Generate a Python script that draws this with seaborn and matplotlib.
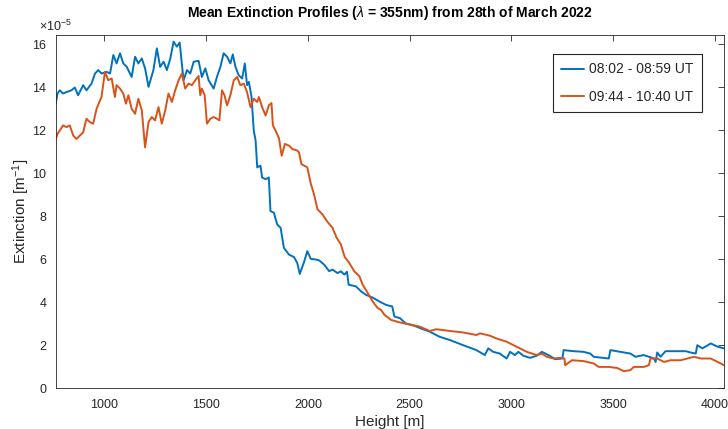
import numpy as np
import pandas as pd
import matplotlib
matplotlib.use("Agg")
import matplotlib.pyplot as plt
from matplotlib.ticker import ScalarFormatter
import seaborn as sns

# ---------------- data (extinction in units of 1e-5 m^-1) ----------------
label_early = "08:02 - 08:59 UT"
label_late = "09:44 - 10:40 UT"

height_early = [761, 770, 781, 797, 814, 838, 855, 871, 896, 912, 937, 954, 970, 986, 1011, 1028,
                1044, 1060, 1077, 1093, 1110, 1134, 1151, 1167, 1184, 1200, 1217, 1241, 1258, 1274,
                1291, 1307, 1324, 1340, 1356, 1370, 1389, 1406, 1422, 1439, 1463, 1479, 1496, 1512,
                1537, 1553, 1570, 1586, 1603, 1619, 1631, 1644, 1660, 1677, 1690, 1701, 1710, 1723,
                1734, 1743, 1751, 1767, 1775, 1792, 1808, 1816, 1833, 1849, 1866, 1882, 1907, 1932,
                1948, 1960, 1981, 1997, 2014, 2038, 2055, 2080, 2104, 2121, 2145, 2162, 2179, 2192,
                2200, 2236, 2261, 2285, 2318, 2351, 2384, 2414, 2425, 2453, 2480, 2520, 2560, 2598,
                2647, 2697, 2762, 2828, 2869, 2886, 2910, 2943, 2976, 2993, 3017, 3034, 3058, 3091,
                3124, 3149, 3182, 3215, 3250, 3256, 3305, 3354, 3387, 3404, 3453, 3478, 3486, 3535,
                3584, 3609, 3650, 3675, 3700, 3708, 3716, 3732, 3757, 3815, 3856, 3880, 3905, 3913,
                3938, 3979, 4012, 4044]
ext_early = [13.21, 13.68, 13.83, 13.68, 13.75, 13.83, 13.96, 13.60, 14.07, 13.83, 14.14, 14.61, 14.77,
             14.61, 14.69, 14.61, 15.47, 15.08, 15.55, 15.08, 14.92, 14.45, 15.39, 15.08, 15.31, 14.85,
             13.99, 14.77, 15.78, 14.92, 15.16, 14.77, 15.31, 16.09, 15.86, 16.05, 14.30, 14.77, 14.61,
             15.16, 15.20, 14.45, 14.85, 14.30, 13.91, 14.45, 14.92, 15.55, 15.39, 15.08, 15.50, 14.92,
             14.53, 14.38, 15.08, 14.07, 14.22, 13.52, 11.96, 11.50, 10.25, 10.33, 9.78, 9.70, 9.78,
             8.22, 8.14, 7.60, 7.44, 6.51, 6.20, 6.08, 5.80, 5.30, 5.85, 6.36, 6.00, 5.97, 5.93, 5.73,
             5.43, 5.50, 5.34, 5.42, 5.27, 5.40, 4.80, 4.72, 4.49, 4.33, 4.20, 4.02, 3.86, 3.79, 3.32,
             3.24, 3.00, 2.90, 2.75, 2.62, 2.38, 2.23, 1.99, 1.76, 1.53, 1.84, 1.68, 1.60, 1.37, 1.68,
             1.53, 1.68, 1.50, 1.40, 1.50, 1.68, 1.53, 1.34, 1.37, 1.76, 1.71, 1.68, 1.60, 1.45, 1.40,
             1.37, 1.76, 1.68, 1.60, 1.45, 1.53, 1.45, 1.37, 1.21, 1.65, 1.45, 1.71, 1.71, 1.71, 1.65,
             1.60, 1.99, 1.84, 2.07, 1.92, 1.84]

height_late = [761, 770, 781, 797, 814, 830, 847, 863, 880, 896, 912, 929, 945, 962, 986, 1003, 1019,
               1036, 1052, 1060, 1077, 1093, 1106, 1118, 1134, 1151, 1167, 1184, 1200, 1217, 1233,
               1249, 1266, 1282, 1299, 1315, 1332, 1348, 1365, 1381, 1397, 1414, 1430, 1447, 1463,
               1471, 1479, 1493, 1504, 1521, 1537, 1553, 1565, 1578, 1590, 1603, 1619, 1636, 1652,
               1668, 1685, 1701, 1718, 1734, 1751, 1759, 1775, 1792, 1808, 1821, 1828, 1841, 1858,
               1871, 1887, 1907, 1924, 1948, 1956, 1968, 1997, 2014, 2030, 2047, 2071, 2096, 2121,
               2140, 2162, 2180, 2203, 2228, 2253, 2269, 2294, 2318, 2343, 2359, 2376, 2409, 2450,
               2500, 2550, 2598, 2631, 2697, 2762, 2828, 2845, 2894, 2927, 2976, 3025, 3075, 3124,
               3149, 3173, 3206, 3239, 3260, 3264, 3297, 3354, 3404, 3428, 3478, 3519, 3552, 3584,
               3601, 3650, 3675, 3683, 3716, 3749, 3782, 3831, 3864, 3897, 3930, 3979, 4012, 4044]
ext_late = [11.57, 11.81, 11.96, 12.20, 12.12, 12.20, 11.73, 11.57, 11.73, 11.88, 12.51, 12.35, 12.28,
            12.98, 13.52, 14.69, 14.30, 14.38, 13.52, 14.07, 13.91, 13.68, 13.21, 13.60, 12.98, 12.74,
            13.44, 12.90, 11.18, 12.35, 12.59, 12.43, 13.05, 12.28, 12.90, 13.68, 13.29, 13.83, 14.30,
            14.61, 13.91, 14.14, 14.07, 14.30, 14.50, 13.60, 13.91, 13.60, 12.28, 12.51, 12.59, 12.51,
            12.43, 13.83, 13.60, 13.13, 13.60, 14.30, 14.45, 14.07, 14.14, 13.75, 13.05, 13.44, 13.29,
            13.52, 13.05, 12.66, 13.13, 13.24, 12.20, 11.96, 11.60, 10.79, 11.34, 11.26, 11.10, 11.03,
            10.95, 10.40, 10.25, 9.50, 9.00, 8.30, 8.07, 7.72, 7.44, 7.00, 6.67, 6.10, 5.81, 5.42,
            5.19, 4.80, 4.41, 4.02, 3.71, 3.63, 3.40, 3.16, 3.05, 2.95, 2.85, 2.65, 2.73, 2.65, 2.58,
            2.46, 2.54, 2.43, 2.30, 2.15, 1.92, 1.68, 1.53, 1.60, 1.45, 1.37, 1.40, 1.37, 1.06, 1.29,
            1.25, 1.14, 0.98, 0.98, 0.93, 0.78, 0.83, 0.98, 0.98, 1.06, 1.37, 1.37, 1.21, 1.29, 1.29,
            1.37, 1.45, 1.37, 1.37, 1.21, 1.06]

y_ticks = [0, 2, 4, 6, 8, 10, 12, 14, 16]
x_ticks = [1000, 1500, 2000, 2500, 3000, 3500, 4000]
title = "Mean Extinction Profiles ($\\lambda$ = 355nm) from 28th of March 2022"

df = pd.concat([
    pd.DataFrame({"Height": height_early, "Extinction": np.array(ext_early) * 1e-5, "Period": label_early}),
    pd.DataFrame({"Height": height_late, "Extinction": np.array(ext_late) * 1e-5, "Period": label_late}),
], ignore_index=True)

# ---------------- style ----------------
sns.set_style("white")
plt.rcParams["font.family"] = ["Liberation Sans", "DejaVu Sans"]
plt.rcParams["mathtext.fontset"] = "custom"
plt.rcParams["mathtext.rm"] = "Liberation Sans"
plt.rcParams["mathtext.it"] = "Liberation Sans:italic"
plt.rcParams["mathtext.bf"] = "Liberation Sans:bold"

axis_col = "#262626"
fig = plt.figure(figsize=(7.28, 4.29), dpi=100)
ax = fig.add_axes([55.7 / 728, 1 - 388 / 429, (724 - 55.7) / 728, (388 - 35) / 429])

sns.lineplot(data=df, x="Height", y="Extinction", hue="Period",
             palette=["#0072BD", "#D95319"], linewidth=1.4, ax=ax, sort=False,
             estimator=None)

ax.set_xlim(761, 4044)
ax.set_ylim(0, 16.4e-5)
ax.set_xticks(x_ticks)
ax.set_yticks([v * 1e-5 for v in y_ticks])

fmt = ScalarFormatter(useMathText=True)
fmt.set_powerlimits((-5, -5))
ax.yaxis.set_major_formatter(fmt)
off = ax.yaxis.get_offset_text()
off.set_fontsize(9)
off.set_color("#555555")
off.set_horizontalalignment("center")

for s in ax.spines.values():
    s.set_visible(True)
    s.set_color(axis_col)
    s.set_linewidth(0.6)
ax.tick_params(direction="in", length=4, width=0.6, colors=axis_col, labelsize=9,
               top=True, right=True, labelcolor=axis_col)
ax.tick_params(axis="x", pad=8)
ax.tick_params(axis="y", pad=6)

ax.set_xlabel("Height [m]", fontsize=11, color=axis_col, labelpad=3)
ax.set_ylabel("Extinction [m$^{-1}$]", fontsize=11, color=axis_col)
ax.yaxis.set_label_coords(-0.035, 0.5)
ax.set_title(title, fontsize=10, fontweight="bold", color="black", pad=13)

leg = ax.legend(loc="upper right", bbox_to_anchor=(0.967, 0.946), borderaxespad=0,
                fontsize=10, frameon=True, fancybox=False, framealpha=1,
                handlelength=1.6, handletextpad=0.4, labelspacing=0.95, borderpad=0.6,
                title=None)
leg.get_frame().set_edgecolor("#262626")
leg.get_frame().set_linewidth(0.8)
for line in leg.get_lines():
    line.set_linewidth(1.4)

fig.savefig("out.png", dpi=100)
